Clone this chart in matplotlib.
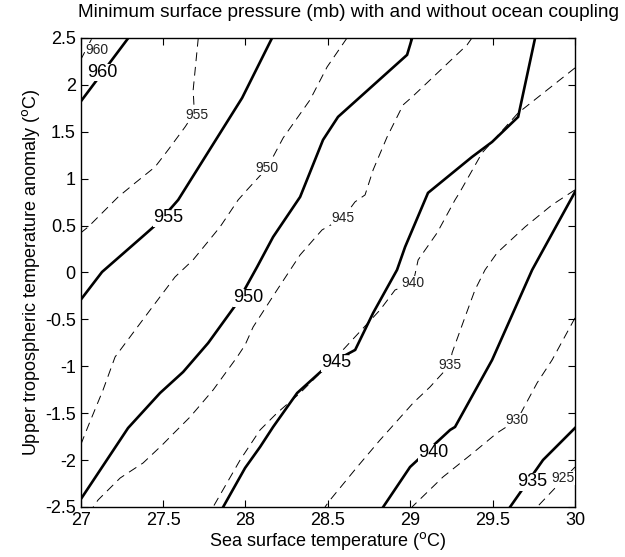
import matplotlib
matplotlib.use('Agg')
import matplotlib.pyplot as plt

# contour lines: (SST, anomaly) vertices
# solid (thick) contours
solid_960 = [(27.0, 1.82), (27.29, 2.5)]
solid_955 = [(28.162, 2.5), (27.980, 1.860), (27.592, 0.773), (27.470, 0.528),
             (27.373, 0.378), (27.130, 0.005), (27.0, -0.293)]
solid_950 = [(29.012, 2.5), (28.981, 2.319), (28.562, 1.658), (28.471, 1.413),
             (28.332, 0.805), (28.168, 0.378), (28.071, 0.059), (27.950, -0.325),
             (27.774, -0.752), (27.622, -1.061), (27.482, -1.285), (27.288, -1.658),
             (27.0, -2.42)]
solid_945 = [(29.758, 2.5), (29.655, 1.658), (29.497, 1.391), (29.375, 1.231),
             (29.108, 0.848), (28.969, 0.272), (28.920, 0.027), (28.775, -0.432),
             (28.666, -0.826), (28.575, -0.912), (28.50, -0.99), (28.314, -1.285),
             (28.168, -1.647), (28.089, -1.860), (27.998, -2.084), (27.865, -2.5)]
solid_940 = [(30.0, 0.858), (29.740, 0.027), (29.497, -0.933), (29.272, -1.647),
             (29.242, -1.679), (28.999, -2.074), (28.836, -2.5)]
solid_935 = [(30.0, -1.658), (29.806, -1.999), (29.606, -2.5)]

# dashed (thin) contours
dashed_960 = [(27.0, 2.265), (27.07, 2.5)]
dashed_955 = [(27.714, 2.5), (27.683, 1.946), (27.690, 1.70), (27.634, 1.551),
              (27.531, 1.306), (27.452, 1.125), (27.331, 0.954), (27.228, 0.805),
              (27.046, 0.485), (27.0, 0.421)]
dashed_950 = [(28.617, 2.5), (28.496, 2.191), (28.392, 1.839), (28.229, 1.434),
              (28.132, 1.114), (28.010, 0.880), (27.956, 0.773), (27.846, 0.485),
              (27.682, 0.133), (27.573, -0.048), (27.422, -0.400), (27.209, -0.901),
              (27.136, -1.253), (27.046, -1.637), (27.0, -1.84)]
dashed_945 = [(29.375, 2.5), (29.345, 2.425), (29.012, 1.871), (28.957, 1.786),
              (28.860, 1.445), (28.775, 1.093), (28.726, 0.826), (28.665, 0.752),
              (28.593, 0.581), (28.465, 0.453), (28.332, 0.187), (28.192, -0.187),
              (28.047, -0.581), (27.998, -0.773), (27.950, -0.901), (27.804, -1.253),
              (27.664, -1.541), (27.555, -1.732), (27.495, -1.839), (27.379, -2.031),
              (27.240, -2.191), (27.106, -2.425), (27.076, -2.5)]
dashed_940 = [(30.0, 2.180), (29.655, 1.700), (29.436, 1.274), (29.302, 0.858),
              (29.272, 0.773), (29.163, 0.421), (29.048, 0.133), (29.018, -0.112),
              (28.908, -0.187), (28.817, -0.400), (28.575, -0.858), (28.332, -1.285),
              (28.192, -1.498), (28.089, -1.679), (27.968, -1.999), (27.804, -2.5)]
dashed_935 = [(30.0, 0.880), (29.861, 0.720), (29.697, 0.485), (29.527, 0.208),
              (29.454, 0.027), (29.393, -0.187), (29.333, -0.474), (29.254, -0.858),
              (29.242, -0.986), (29.120, -1.221), (29.018, -1.391), (28.817, -1.786),
              (28.678, -2.074), (28.514, -2.425), (28.483, -2.5)]
dashed_930 = [(30.0, -0.485), (29.861, -0.933), (29.770, -1.178), (29.649, -1.573),
              (29.527, -1.711), (29.381, -1.924), (29.199, -2.180), (29.011, -2.5)]
dashed_925 = [(30.0, -2.074), (29.770, -2.5)]

# inline label positions
solid_labels = [(960, 27.13, 2.13), (955, 27.531, 0.581), (950, 28.016, -0.272),
                (945, 28.55, -0.965), (940, 29.139, -1.924), (935, 29.739, -2.233)]
dashed_labels = [(960, 27.10, 2.37), (955, 27.707, 1.679), (950, 28.132, 1.114),
                 (945, 28.593, 0.581), (940, 29.018, -0.112), (935, 29.242, -0.986),
                 (930, 29.649, -1.573), (925, 29.928, -2.191)]

x_ticks = [27, 27.5, 28, 28.5, 29, 29.5, 30]
y_ticks = [-2.5, -2, -1.5, -1, -0.5, 0, 0.5, 1, 1.5, 2, 2.5]

solid_lines = [solid_960, solid_955, solid_950, solid_945, solid_940, solid_935]
dashed_lines = [dashed_960, dashed_955, dashed_950, dashed_945, dashed_940,
                dashed_935, dashed_930, dashed_925]

plt.rcParams['font.family'] = ['Liberation Sans', 'DejaVu Sans']

fig = plt.figure(figsize=(6.25, 5.57), dpi=100)
ax = fig.add_axes([0.129, 0.0898, 0.791, 0.8422])

for line in solid_lines:
    xs, ys = zip(*line)
    ax.plot(xs, ys, color='black', lw=1.9, solid_joinstyle='miter')

for line in dashed_lines:
    xs, ys = zip(*line)
    ax.plot(xs, ys, color='black', lw=0.7, dashes=(9, 6))

for lev, x, y in solid_labels:
    ax.text(x, y, str(lev), fontsize=13, ha='center', va='center', clip_on=True,
            bbox=dict(facecolor='white', edgecolor='none', pad=0.3))

for lev, x, y in dashed_labels:
    ax.text(x, y, str(lev), fontsize=10, ha='center', va='center', clip_on=True,
            color='#222222',
            bbox=dict(facecolor='white', edgecolor='none', pad=0.2))

ax.set_xlim(27, 30)
ax.set_ylim(-2.5, 2.5)
ax.set_xticks(x_ticks)
ax.set_xticklabels(['%g' % t for t in x_ticks])
ax.set_yticks(y_ticks)
ax.set_yticklabels(['%g' % t for t in y_ticks])
ax.tick_params(direction='in', top=True, right=True, length=5, width=0.8,
               labelsize=13)
for sp in ax.spines.values():
    sp.set_linewidth(1.0)

# title sits a bit right of the axes centre in the original
fig.text(0.557, 0.977, 'Minimum surface pressure (mb) with and without ocean coupling',
         fontsize=13.7, ha='center', va='center')
ax.set_xlabel(r'Sea surface temperature ($^{\rm o}$C)', fontsize=13, labelpad=1)
ax.set_ylabel(r'Upper tropospheric temperature anomaly ($^{\rm o}$C)', fontsize=13,
              labelpad=2)

fig.savefig('out.png', dpi=100)
